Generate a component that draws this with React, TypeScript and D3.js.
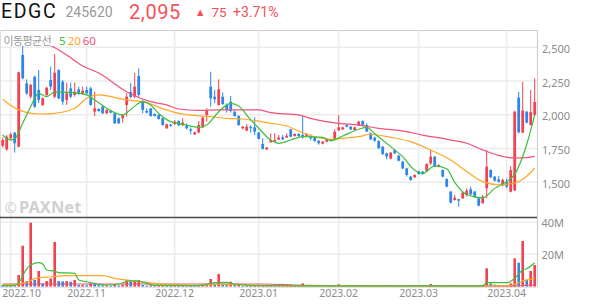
import React from "react";
import * as d3 from "d3";

const W = 594;
const H = 304;

// OHLC per trading day (index 0 = 2022-09-29 ... 133 = 2023-04-12)
const open = [1771,1744,1826,1868,1764,2443,2233,2134,2282,2184,2073,2147,2258,2134,2332,2245,2110,2196,2147,2189,2159,2184,2196,2023,2043,2060,2011,2031,2011,1974,1974,2073,2169,2134,2287,2097,2028,2048,2006,1998,1974,1900,1927,1932,1954,1924,1917,1892,1855,1870,1907,1998,2208,2134,2073,2134,2073,2097,2023,1991,1900,1882,1910,1907,1868,1784,1744,1796,1801,1816,1833,1831,1892,1843,1858,1850,1843,1843,1833,1806,1786,1801,1818,1818,1885,1892,1924,1912,1887,1924,1954,1924,1863,1831,1806,1764,1715,1675,1739,1697,1653,1603,1542,1537,1581,1579,1584,1640,1690,1616,1591,1524,1431,1369,1376,1381,1406,1448,1431,1381,1344,1456,1591,1542,1522,1480,1505,1430,1440,2127,1868,2023,1924,2000];
const high = [1833,1850,1868,1873,2320,2517,2263,2230,2290,2332,2130,2208,2356,2450,2337,2258,2238,2238,2238,2208,2208,2208,2208,2171,2048,2073,2040,2036,2016,1979,2006,2159,2235,2310,2344,2110,2048,2048,2011,2003,1979,1935,1930,1961,1959,1974,1937,1907,1875,1954,1986,2048,2319,2184,2263,2166,2085,2139,2031,1996,1917,1932,1924,1981,1873,1826,1761,1863,1863,1850,1850,1863,1897,1863,1863,1991,1863,1855,1838,1813,1806,1823,1823,1892,1998,1912,1929,1917,1912,1956,1959,1937,1868,1838,1811,1769,1720,1724,1744,1702,1658,1608,1547,1559,1586,1584,1640,1739,1695,1633,1596,1529,1436,1406,1376,1428,1455,1468,1436,1386,1406,1739,1596,1547,1547,1529,1529,1620,2030,2169,2245,2028,2184,2270];
const low = [1759,1734,1818,1720,1759,2263,2147,2120,2050,2085,2065,2134,2184,2122,2115,2073,2073,2122,2134,2147,2147,2147,2068,1991,2023,2006,2006,2011,1932,1932,1942,1986,2122,2122,2134,2011,2011,1986,1986,1964,1920,1895,1912,1924,1917,1917,1892,1855,1850,1863,1900,1949,2060,2085,2068,2073,2016,2016,1986,1917,1892,1882,1868,1850,1818,1744,1739,1796,1801,1813,1813,1831,1833,1838,1833,1823,1838,1813,1801,1779,1781,1796,1801,1813,1882,1887,1907,1887,1882,1919,1919,1875,1813,1801,1747,1702,1670,1670,1710,1655,1598,1542,1512,1532,1557,1557,1579,1628,1611,1611,1537,1463,1344,1364,1319,1376,1394,1406,1389,1322,1344,1382,1532,1505,1497,1468,1455,1425,1435,1863,1863,1937,1920,1995];
const close = [1813,1838,1855,1789,2315,2270,2159,2221,2060,2110,2122,2201,2208,2312,2122,2097,2159,2134,2171,2154,2179,2159,2073,2048,2028,2011,2036,2016,1937,1937,1998,2134,2132,2208,2147,2036,2016,1991,1991,1969,1924,1929,1917,1949,1922,1942,1900,1882,1870,1924,1979,2031,2122,2115,2189,2080,2036,2028,1991,1924,1912,1912,1900,1875,1821,1747,1757,1813,1813,1831,1818,1845,1838,1858,1843,1833,1858,1826,1806,1789,1801,1818,1806,1875,1907,1907,1912,1892,1907,1949,1924,1875,1818,1808,1752,1710,1690,1720,1715,1660,1603,1554,1517,1554,1561,1561,1636,1690,1616,1628,1542,1468,1349,1386,1364,1423,1438,1411,1394,1327,1394,1616,1537,1512,1505,1517,1468,1590,2023,1870,2031,1942,2020,2095];

// volume in millions of shares
const volume = [0.9,0.8,1.0,0.7,7.2,25.3,3.4,39.6,4.1,9.7,2.0,3.4,5.1,27.6,3.4,3.2,3.4,3.0,4.1,1.0,1.1,0.8,2.0,1.6,0.9,0.8,0.9,0.6,1.1,0.7,1.2,4.1,3.2,3.6,4.1,1.0,0.7,0.8,0.5,0.7,0.9,0.6,0.4,0.6,0.5,0.6,0.4,0.5,0.4,0.8,1.2,1.5,4.7,1.6,7.8,1.8,1.2,3.0,1.0,1.3,0.5,0.6,0.4,0.8,0.9,1.0,0.5,0.6,0.5,0.4,0.3,0.4,0.7,0.4,0.3,2.0,0.5,0.4,0.5,0.4,0.3,0.4,0.3,0.8,1.4,0.5,0.4,0.3,0.4,0.6,0.4,0.5,0.6,0.4,0.6,0.7,0.5,0.4,0.3,0.4,0.5,0.6,0.5,0.4,0.3,0.3,0.8,1.6,0.7,0.4,0.5,0.6,0.9,0.5,0.4,0.5,0.4,0.4,0.3,0.5,0.6,11.3,1.9,1.2,1.0,0.9,0.8,2.0,17.5,14.8,28.2,4.1,9.7,13.4];

// moving averages: [day index, value]
const ma5: [number, number][] = [[0,1850],[2,1813],[3,1822],[5,1937],[7,2060],[9,2159],[11,2134],[13,2168],[17,2166],[21,2147],[23,2110],[26,2048],[30,1999],[32,2040],[35,2097],[37,2073],[39,2010],[42,1949],[44,1937],[49,1907],[51,1924],[54,2023],[57,2085],[59,2065],[62,1962],[64,1900],[67,1813],[69,1789],[72,1813],[75,1838],[80,1833],[82,1808],[85,1843],[89,1893],[91,1907],[93,1860],[97,1764],[100,1690],[103,1590],[105,1565],[108,1621],[111,1600],[113,1500],[116,1410],[120,1385],[123,1455],[126,1505],[128,1560],[131,1780],[133,1999]];
const ma20: [number, number][] = [[0,2115],[4,2036],[9,2006],[13,2011],[18,2048],[21,2122],[24,2147],[31,2110],[35,2097],[41,2036],[44,2011],[52,1986],[56,1974],[60,1969],[67,1937],[71,1917],[75,1867],[79,1830],[82,1819],[85,1826],[89,1838],[92,1856],[97,1833],[102,1801],[107,1739],[112,1665],[116,1580],[120,1505],[124,1482],[128,1495],[131,1545],[133,1604]];
const ma60: [number, number][] = [[6,2650],[10,2554],[16,2443],[20,2361],[24,2310],[31,2171],[37,2097],[41,2073],[44,2043],[49,2032],[54,2036],[59,2036],[64,2036],[67,2016],[74,1999],[77,1974],[84,1937],[89,1924],[94,1900],[99,1884],[105,1850],[112,1813],[116,1789],[120,1740],[124,1700],[128,1680],[131,1683],[133,1692]];

const volMa5: [number, number][] = [[0,0.6],[3,0.8],[4,2.4],[6,11],[7,13.4],[9,14.8],[10,14.0],[11,10.3],[13,9.5],[14,8.7],[18,8.2],[19,4.1],[21,3.0],[23,2.0],[26,1.0],[29,1.6],[32,3.6],[34,3.4],[36,2.0],[38,0.8],[49,0.6],[53,2.4],[56,2.6],[58,1.6],[61,0.8],[64,0.6],[75,0.5],[114,0.4],[120,0.5],[121,2.4],[126,2.4],[128,5.1],[130,10.3],[131,11.1],[133,14.8]];
const volMa20: [number, number][] = [[0,1.2],[4,1.6],[7,3.6],[8,5.1],[12,6.1],[16,6.8],[25,6.8],[28,5.1],[33,3.6],[38,2.0],[43,1.2],[49,0.8],[53,1.4],[60,1.2],[66,0.6],[74,0.4],[126,0.4],[129,2.4],[130,3.4],[133,5.1]];
const volMa60: [number, number][] = [[0,1.6],[65,1.6],[75,0.8],[90,0.5],[126,0.4],[133,1.0]];

const monthIdx = [2, 21, 43, 64, 84, 104, 126];
const monthLabels = ["2022.10", "2022.11", "2022.12", "2023.01", "2023.02", "2023.03", "2023.04"];
const priceTicks = [1500, 1750, 2000, 2250, 2500];
const volTicks = [20, 40];

const RED = "#f0424f";
const BLUE = "#2c87e8";
const C5 = "#3cbf3c";
const C20 = "#ffa726";
const C60 = "#f0527a";
const FONT = "'Noto Sans', sans-serif";
const HFONT = "Roboto, sans-serif";

export default function App() {
  const L = 0, R = 537, TOP = 30, MID = 217, BOT = 287;
  const x = d3.scaleLinear().domain([0, 133]).range([2.7, 534.7]);
  const y = d3.scaleLinear().domain([1243, 2628]).range([MID, TOP]);
  const yv = d3.scaleLinear().domain([0, 43.1]).range([286.6, MID]);

  const line = d3.line<[number, number]>().x(d => x(d[0])).y(d => y(d[1])).curve(d3.curveMonotoneX);
  const vline = d3.line<[number, number]>().x(d => x(d[0])).y(d => yv(d[1])).curve(d3.curveMonotoneX);

  const fmt = d3.format(",");

  return (
    <svg width={W} height={H} style={{ position: "absolute", left: 0, top: 0, display: "block", background: "#fff" }} fontFamily={FONT}>
      <defs>
        <clipPath id="cp"><rect x={L} y={TOP} width={R - L} height={MID - TOP} /></clipPath>
        <clipPath id="cv"><rect x={L} y={MID} width={R - L} height={BOT - MID} /></clipPath>
      </defs>

      {/* header */}
      <text x={1} y={18.3} fontSize={19.5} fill="#111" letterSpacing={1.6} fontFamily={HFONT}>EDGC</text>
      <text x={65.5} y={16.9} fontSize={14} fill="#999" fontFamily={HFONT}>245620</text>
      <text x={129} y={18.6} fontSize={20} fill="#f5505a" fontFamily={HFONT} letterSpacing={0.6}>{fmt(close[close.length - 1])}</text>
      <text x={197} y={14.6} fontSize={8.5} fill="#f5505a" fontFamily="'DejaVu Sans', sans-serif">▲</text>
      <text x={211.5} y={16.9} fontSize={13.5} fill="#f5505a" fontFamily={HFONT}>75</text>
      <text x={233} y={16.9} fontSize={14} fill="#f5505a" fontFamily={HFONT}>+3.71%</text>

      {/* grid */}
      {priceTicks.map(p => (
        <line key={"gp" + p} x1={L} x2={R} y1={y(p)} y2={y(p)} stroke="#ececec" strokeWidth={1.4} />
      ))}
      {volTicks.map(v => (
        <line key={"gv" + v} x1={L} x2={R} y1={yv(v)} y2={yv(v)} stroke="#ececec" strokeWidth={1.4} />
      ))}
      {monthIdx.map(i => (
        <line key={"gm" + i} x1={x(i)} x2={x(i)} y1={TOP} y2={BOT} stroke="#ececec" strokeWidth={1.4} />
      ))}

      {/* watermark */}
      <text x={4.5} y={212.5} fontSize={15} fill="#d0d0d0">©</text>
      <text x={19} y={212.5} fontSize={16.5} fontWeight="bold" fill="#d0d0d0">PAXNet</text>

      {/* candles */}
      <g clipPath="url(#cp)">
        {close.map((c, i) => {
          const o = open[i];
          const up = c >= o;
          const col = up ? RED : BLUE;
          const cx = x(i);
          const top = y(Math.max(o, c));
          const bot = y(Math.min(o, c));
          return (
            <g key={"c" + i}>
              <line x1={cx} x2={cx} y1={y(high[i])} y2={y(low[i])} stroke={col} strokeWidth={1} />
              <rect x={cx - 1.4} y={top} width={2.8} height={Math.max(1, bot - top)} fill={col} />
            </g>
          );
        })}
        <path d={line(ma60) || ""} fill="none" stroke={C60} strokeWidth={1.2} />
        <path d={line(ma20) || ""} fill="none" stroke={C20} strokeWidth={1.2} />
        <path d={line(ma5) || ""} fill="none" stroke={C5} strokeWidth={1.2} />
      </g>

      {/* volume */}
      <g clipPath="url(#cv)">
        {volume.map((v, i) => {
          const col = i > 0 && v >= volume[i - 1] ? RED : BLUE;
          const t = yv(v);
          return <rect key={"v" + i} x={x(i) - 1.3} y={t} width={2.6} height={Math.max(0.6, yv(0) - t)} fill={col} />;
        })}
        <path d={vline(volMa60) || ""} fill="none" stroke={C60} strokeWidth={1.2} />
        <path d={vline(volMa20) || ""} fill="none" stroke={C20} strokeWidth={1.2} />
        <path d={vline(volMa5) || ""} fill="none" stroke={C5} strokeWidth={1.2} />
      </g>

      {/* legend */}
      <rect x={1} y={31} width={96} height={15} fill="#fff" />
      <text x={3.5} y={44.5} fontSize={11} fill="#999" fontFamily="'Noto Sans CJK KR', sans-serif" letterSpacing={-0.6}>이동평균선</text>
      <text x={59} y={44.5} fontSize={11.5} fill={C5}>5</text>
      <text x={67.8} y={44.5} fontSize={11.5} fill={C20}>20</text>
      <text x={82.8} y={44.5} fontSize={11.5} fill={C60}>60</text>

      {/* frame */}
      <line x1={L} x2={R} y1={TOP + 0.5} y2={TOP + 0.5} stroke="#cfcfcf" strokeWidth={1} />
      <line x1={L + 0.5} x2={L + 0.5} y1={TOP} y2={BOT} stroke="#dedede" strokeWidth={1} />
      <line x1={R + 0.5} x2={R + 0.5} y1={TOP} y2={BOT} stroke="#cfcfcf" strokeWidth={1.2} />
      <line x1={L} x2={R} y1={MID + 0.5} y2={MID + 0.5} stroke="#4a4a4a" strokeWidth={1.3} />
      <line x1={L} x2={R} y1={BOT + 0.5} y2={BOT + 0.5} stroke="#e4e4e4" strokeWidth={1} />

      {/* axes labels */}
      {priceTicks.map(p => (
        <text key={"tp" + p} x={542} y={y(p) + 5.5} fontSize={11} fill="#8c8c8c">{fmt(p)}</text>
      ))}
      {volTicks.map(v => (
        <text key={"tv" + v} x={541.5} y={yv(v) + 5} fontSize={11} fill="#8c8c8c">{v + "M"}</text>
      ))}
      {monthIdx.map((i, k) => (
        <text key={"tm" + i} x={Math.max(x(i), 21.7)} y={296.7} fontSize={10.5} fill="#8c8c8c" textAnchor="middle">{monthLabels[k]}</text>
      ))}
    </svg>
  );
}
